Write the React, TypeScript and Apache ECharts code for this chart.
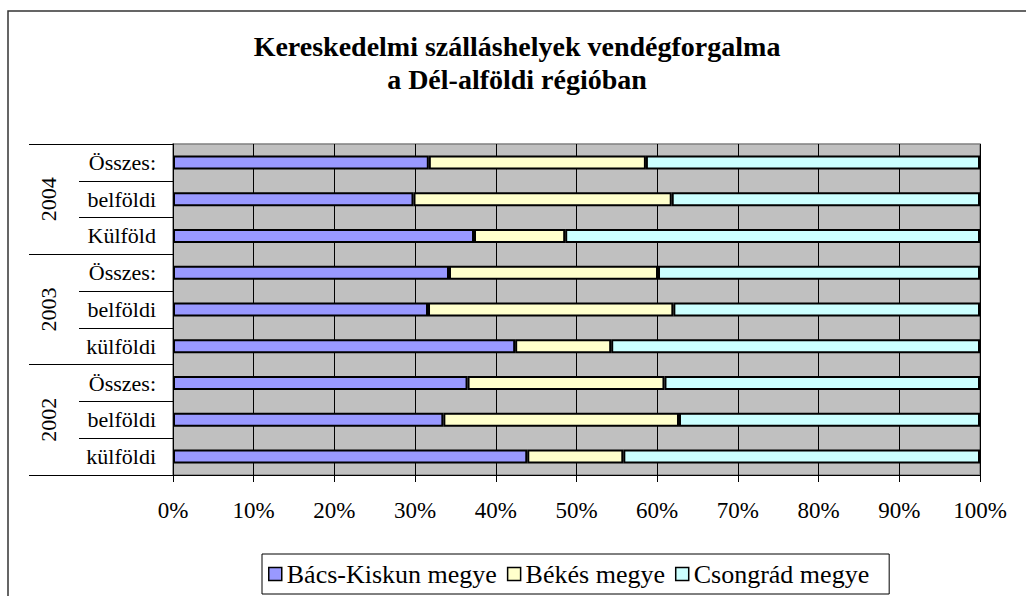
import React, { useEffect, useRef } from "react";
import * as echarts from "echarts";

const categories = [
  "Összes:", "belföldi", "Külföld",
  "Összes:", "belföldi", "külföldi",
  "Összes:", "belföldi", "külföldi",
];
const years = ["2004", "2003", "2002"];
const seriesNames = ["Bács-Kiskun megye", "Békés megye", "Csongrád megye"];
const bacsKiskun = [31.7, 29.8, 37.3, 34.2, 31.6, 42.4, 36.5, 33.5, 43.9];
const bekes = [26.9, 32.0, 11.3, 25.9, 30.4, 11.9, 24.4, 29.2, 11.9];
const csongrad = [41.4, 38.2, 51.4, 39.9, 38.0, 45.7, 39.1, 37.3, 44.2];
const xTicks = [0, 10, 20, 30, 40, 50, 60, 70, 80, 90, 100];

const colors = ["#9999FF", "#FFFFCC", "#CCFFFF"];
const FONT = "'Liberation Serif', 'Times New Roman', 'DejaVu Serif', serif";

export default function App() {
  const ref = useRef<HTMLDivElement>(null);
  useEffect(() => {
    if (!ref.current) return;
    const chart = echarts.init(ref.current, null, { renderer: "svg" });
    const values = [bacsKiskun, bekes, csongrad];
    chart.setOption({
      animation: false,
      backgroundColor: "#ffffff",
      textStyle: { fontFamily: FONT },
      title: {
        text: "Kereskedelmi szálláshelyek vendégforgalma\na Dél-alföldi régióban",
        left: 517,
        textAlign: "center",
        top: 30,
        padding: 0,
        textStyle: {
          fontFamily: FONT,
          fontSize: 28,
          fontWeight: "bold",
          lineHeight: 33,
          color: "#000",
        },
      },
      graphic: [
        {
          type: "rect",
          shape: { x: 8, y: 11, width: 1200, height: 800 },
          style: { fill: "none", stroke: "#333", lineWidth: 1.5 },
          silent: true,
          z: -10,
        },
      ],
      legend: {
        data: seriesNames,
        left: 262,
        top: 554,
        orient: "horizontal",
        padding: [7, 20, 7, 6],
        borderColor: "#000",
        borderWidth: 1,
        itemGap: 10,
        itemWidth: 13,
        itemHeight: 13,
        icon: "rect",
        itemStyle: { borderColor: "#000", borderWidth: 1.5 },
        textStyle: { fontFamily: FONT, fontSize: 26, color: "#000" },
      },
      grid: {
        left: 173,
        right: 46,
        top: 144,
        bottom: 121,
        show: true,
        backgroundColor: "#C0C0C0",
        borderColor: "#808080",
        borderWidth: 1.5,
        containLabel: false,
      },
      xAxis: {
        type: "value",
        min: xTicks[0],
        max: xTicks[xTicks.length - 1],
        interval: 10,
        axisLine: { show: true, lineStyle: { color: "#000", width: 1 } },
        axisTick: { show: true, length: 7, lineStyle: { color: "#000" } },
        splitLine: { show: true, lineStyle: { color: "#000", width: 1 } },
        axisLabel: {
          formatter: "{value}%",
          fontFamily: FONT,
          fontSize: 23,
          color: "#000",
          margin: 24,
        },
      },
      yAxis: [
        {
          type: "category",
          data: categories,
          inverse: true,
          position: "left",
          axisLine: { show: true, lineStyle: { color: "#000", width: 1 } },
          axisTick: { show: true, length: 94, lineStyle: { color: "#000" } },
          splitLine: { show: false },
          axisLabel: {
            fontFamily: FONT,
            fontSize: 22,
            color: "#000",
            margin: 17,
          },
        },
        {
          type: "category",
          data: years,
          inverse: true,
          position: "left",
          axisLine: { show: false },
          axisTick: { show: true, length: 144, lineStyle: { color: "#000" } },
          splitLine: { show: false },
          axisLabel: {
            rotate: 90,
            fontFamily: FONT,
            fontSize: 22,
            color: "#000",
            margin: 114,
          },
        },
      ],
      series: seriesNames.map((name, i) => ({
        name,
        type: "bar",
        stack: "total",
        yAxisIndex: 0,
        barWidth: 14,
        data: values[i],
        itemStyle: { color: colors[i], borderColor: "#000", borderWidth: 2 },
      })),
    });
    return () => chart.dispose();
  }, []);
  return (
    <div
      style={{
        position: "fixed",
        left: 0,
        top: 0,
        width: 1026,
        height: 596,
        overflow: "hidden",
        background: "#fff",
      }}
    >
      <div ref={ref} style={{ width: 1026, height: 596 }} />
    </div>
  );
}
